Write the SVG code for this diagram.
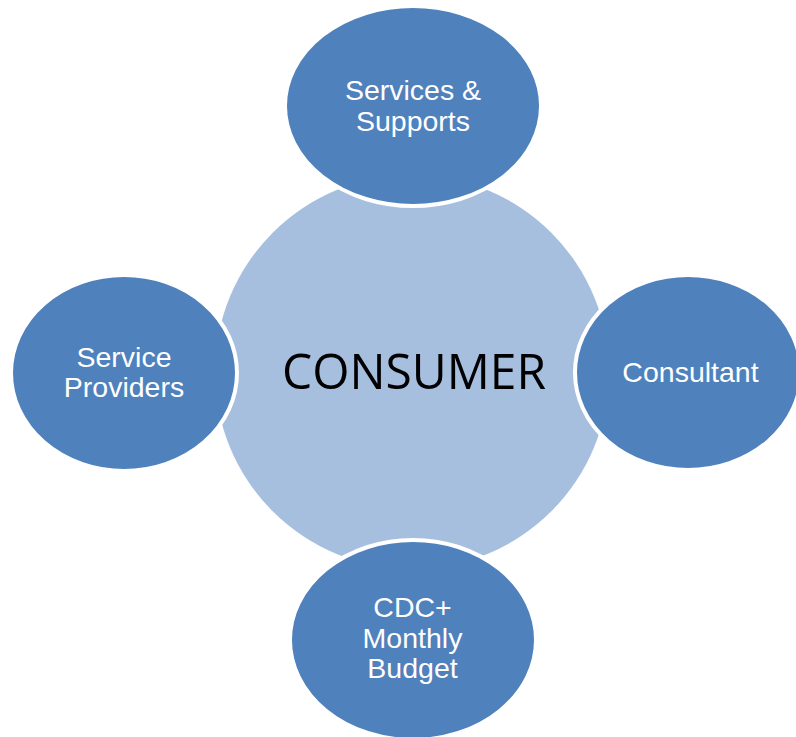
<svg xmlns="http://www.w3.org/2000/svg" width="796" height="737" viewBox="0 0 796 737">
<style>
.node{fill:#4F81BD;stroke:#FFFFFF;stroke-width:4}
.hub{fill:#A7BFDE}
.lbl{font-family:"Liberation Sans",Arial,sans-serif;font-size:28.5px;fill:#FFFFFF;text-anchor:middle}
.hubtxt{font-family:"Open Sans","Liberation Sans",sans-serif;font-size:50px;fill:#000000;text-anchor:middle}
</style>
<rect width="796" height="737" fill="#FFFFFF"/>
<g id="connectors"></g>
<g id="consumer">
<circle class="hub" cx="412" cy="372" r="197"/>
<text class="hubtxt" x="414" y="389" textLength="264" lengthAdjust="spacingAndGlyphs">CONSUMER</text>
</g>
<g id="services-supports">
<ellipse class="node" cx="413" cy="106" rx="128" ry="100"/>
<text class="lbl" x="413" y="100">Services &amp;</text>
<text class="lbl" x="413" y="130.5">Supports</text>
</g>
<g id="service-providers">
<ellipse class="node" cx="124" cy="373" rx="113" ry="98"/>
<text class="lbl" x="124" y="366.5">Service</text>
<text class="lbl" x="124" y="396.5">Providers</text>
</g>
<g id="consultant">
<ellipse class="node" cx="688" cy="372.5" rx="113" ry="97.5"/>
<text class="lbl" x="690.5" y="381.5">Consultant</text>
</g>
<g id="cdc-budget">
<ellipse class="node" cx="413" cy="640" rx="123" ry="100"/>
<text class="lbl" x="412.5" y="617">CDC+</text>
<text class="lbl" x="412.5" y="647.5">Monthly</text>
<text class="lbl" x="412.5" y="678">Budget</text>
</g>
</svg>
